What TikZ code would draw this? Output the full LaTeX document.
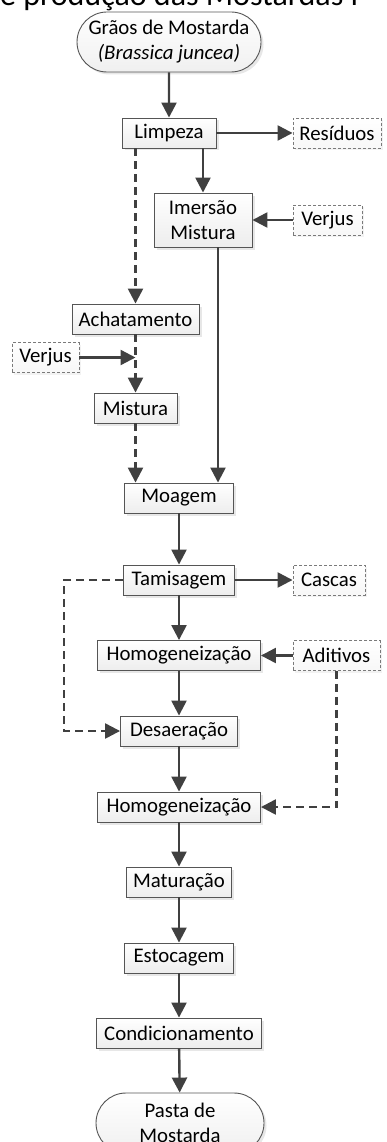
\documentclass[tikz,border=0pt]{standalone}
\usepackage{fontspec}
\setmainfont{Carlito}
\usetikzlibrary{arrows.meta,shapes.misc,shadows}
\definecolor{ink}{HTML}{404040}
\definecolor{frame}{HTML}{555555}
\definecolor{dashframe}{HTML}{7A7A7A}
\tikzset{
  every node/.style={font=\fontsize{20.8}{25}\selectfont, text=black},
  procbox/.style={rectangle, draw=frame, line width=0.9pt,
    top color=white, bottom color=gray!14, inner xsep=2pt, inner ysep=2pt,
    minimum height=30pt,
    drop shadow={shadow xshift=2.5pt, shadow yshift=-2.5pt, opacity=0.35, fill=gray!55}},
  inbox/.style={rectangle, draw=dashframe, line width=0.9pt, dash pattern=on 3pt off 2pt,
    top color=white, bottom color=gray!6, inner xsep=2pt, inner ysep=2pt,
    minimum height=30pt,
    drop shadow={shadow xshift=2pt, shadow yshift=-2pt, opacity=0.2, fill=gray!50}},
  terminal/.style={rounded rectangle, draw=frame, line width=0.9pt,
    top color=white, bottom color=gray!12, align=center, inner sep=2pt,
    drop shadow={shadow xshift=2.5pt, shadow yshift=-2.5pt, opacity=0.35, fill=gray!55}},
  flow/.style={draw=ink, line width=2.4pt, -{Triangle[length=15pt,width=15pt]}},
  flowdash/.style={flow, dash pattern=on 8pt off 5pt},
}
\begin{document}
\begin{tikzpicture}[x=1pt,y=1pt]
  \clip (0,0) rectangle (387,-1142);
  \useasboundingbox (0,0) rectangle (387,-1142);

  % heading, mostly outside the page
  \node[anchor=base west, inner sep=0, font=\fontsize{32}{32}\selectfont] (heading) at (0,-6) {e produção das Mostardas f};

  % raw material
  \node[terminal, minimum width=188pt, minimum height=60pt] (start) at (169,-42)
    {Grãos de Mostarda\\\textit{(Brassica juncea)}};

  % upper part: cleaning and the two preparation routes
  \node[procbox, minimum width=94pt] (limpeza) at (169,-133) {Limpeza};
  \node[inbox, minimum width=88pt] (residuos) at (337,-133) {Resíduos};
  \node[procbox, minimum width=98pt, minimum height=54pt, align=center] (imersao) at (203,-220) {Imersão\\Mistura};
  \node[inbox, minimum width=69pt] (verjusA) at (327.5,-220) {Verjus};
  \node[procbox, minimum width=127pt] (achat) at (135.5,-319) {Achatamento};
  \node[inbox, minimum width=67pt] (verjusB) at (45.5,-357.5) {Verjus};
  \node[procbox, minimum width=83pt] (mistura) at (135.5,-408) {Mistura};

  % main line
  \node[procbox, minimum width=109pt] (moagem) at (179,-498) {Moagem};
  \node[procbox, minimum width=111pt] (tamis) at (179,-580) {Tamisagem};
  \node[inbox, minimum width=72pt] (cascas) at (329,-580) {Cascas};
  \node[procbox, minimum width=163pt] (homogA) at (179,-655.5) {Homogeneização};
  \node[inbox, minimum width=87pt] (aditivos) at (336.5,-655.5) {Aditivos};
  \node[procbox, minimum width=117pt] (desae) at (179,-731) {Desaeração};
  \node[procbox, minimum width=163pt] (homogB) at (179,-807) {Homogeneização};
  \node[procbox, minimum width=105pt] (matur) at (179,-882) {Maturação};
  \node[procbox, minimum width=109pt] (estoc) at (179,-958) {Estocagem};
  \node[procbox, minimum width=165pt] (condic) at (179,-1033) {Condicionamento};
  \node[terminal, minimum width=172pt, minimum height=60pt] (pasta) at (180,-1123)
    {Pasta de\\Mostarda};

  % helper points
  \coordinate (joinB) at (achat.south |- verjusB.east);
  \coordinate (bypass) at ([xshift=15pt]imersao.south);

  % connectors
  \draw[flow] (start) -- (limpeza);
  \draw[flow] (limpeza) -- (residuos);
  \draw[flow] (limpeza.south -| imersao.north) -- (imersao.north);
  \draw[flow] (verjusA) -- (imersao);
  \draw[flowdash] (limpeza.south -| achat.north) -- (achat.north);
  \draw[flowdash] (achat.south) -- (mistura.north);
  \draw[flow] (verjusB.east) -- (joinB);
  \draw[flowdash] (mistura.south) -- (mistura.south |- moagem.north);
  \draw[flow] (bypass) -- (bypass |- moagem.north);
  \draw[flow] (moagem) -- (tamis);
  \draw[flow] (tamis) -- (cascas);
  \draw[flow] (tamis) -- (homogA);
  \draw[flow] (aditivos) -- (homogA);
  \draw[flowdash] (tamis.west) -- ++(-59,0) |- (desae.west);
  \draw[flow] (homogA) -- (desae);
  \draw[flowdash] (aditivos.south) |- (homogB.east);
  \draw[flow] (desae) -- (homogB);
  \draw[flow] (homogB) -- (matur);
  \draw[flow] (matur) -- (estoc);
  \draw[flow] (estoc) -- (condic);
  \draw[flow] (condic) -- (pasta);
\end{tikzpicture}
\end{document}
